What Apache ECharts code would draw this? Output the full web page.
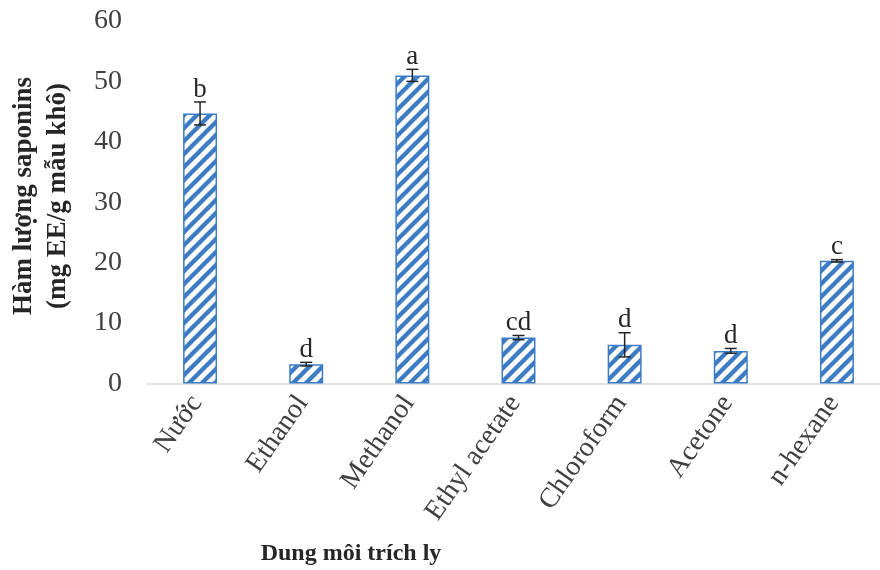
<!DOCTYPE html>
<html>
<head>
<meta charset="utf-8">
<script src="https://cdn.jsdelivr.net/npm/echarts@6/dist/echarts.min.js"></script>
<style>
  html, body { margin: 0; padding: 0; background: #fff; }
  #chart { width: 880px; height: 570px; }
</style>
</head>
<body>
<div id="chart"></div>
<script>
// Saponin content by extraction solvent (mean ± SD, with significance groups)
const categories = ['Nước', 'Ethanol', 'Methanol', 'Ethyl acetate', 'Chloroform', 'Acetone', 'n-hexane'];
const means = [44.7, 3.2, 51.0, 7.6, 6.4, 5.4, 20.3];
const errors = [1.9, 0.3, 1.0, 0.35, 2.0, 0.4, 0.2];
const groups = ['b', 'd', 'a', 'cd', 'd', 'd', 'c'];
const yTicks = [0, 10, 20, 30, 40, 50, 60];

const BLUE = '#3d7cc4';
const SERIF = '"Liberation Serif", "Times New Roman", serif';

// Wide upward-diagonal hatch tile
function stripeTile(color) {
  const s = 13;
  const c = document.createElement('canvas');
  c.width = s; c.height = s;
  const g = c.getContext('2d');
  g.fillStyle = '#ffffff';
  g.fillRect(0, 0, s, s);
  g.strokeStyle = color;
  g.lineWidth = 4.4;
  g.beginPath();
  for (let k = -1; k <= 1; k++) {
    g.moveTo(k * s - 2, s + 2);
    g.lineTo(k * s + s + 2, -2);
  }
  g.stroke();
  return c;
}

const chart = echarts.init(document.getElementById('chart'), null, { renderer: 'canvas' });

const errData = categories.map((c, i) => [i, means[i], errors[i]]);

chart.setOption({
  animation: false,
  backgroundColor: '#ffffff',
  grid: {
    left: 147, width: 743, top: 21, bottom: 186.5,
    containLabel: false,
    outerBoundsMode: 'none'
  },
  xAxis: {
    type: 'category',
    data: categories,
    axisLine: { show: true, lineStyle: { color: '#d9d9d9', width: 1.5 } },
    axisTick: { show: false },
    axisLabel: {
      rotate: 55,
      margin: 10,
      interval: 0,
      padding: [0, 6, 0, 0],
      fontFamily: SERIF,
      fontSize: 28,
      color: '#404040'
    }
  },
  yAxis: {
    type: 'value',
    min: yTicks[0],
    max: yTicks[yTicks.length - 1],
    interval: 10,
    axisLine: { show: false },
    axisTick: { show: false },
    splitLine: { show: false },
    axisLabel: {
      margin: 25,
      fontFamily: SERIF,
      fontSize: 28,
      color: '#404040',
      formatter: v => (yTicks.includes(v) ? String(v) : '')
    }
  },
  series: [
    {
      type: 'bar',
      data: means,
      barWidth: '32%',
      itemStyle: {
        color: { image: stripeTile(BLUE), repeat: 'repeat' },
        borderColor: BLUE,
        borderWidth: 1.5
      },
      z: 2
    },
    {
      type: 'custom',
      data: errData,
      z: 5,
      renderItem: function (params, api) {
        const i = api.value(0);
        const m = api.value(1);
        const e = api.value(2);
        const top = api.coord([i, m + e]);
        const bot = api.coord([i, m - e]);
        const cap = 6;
        const lineStyle = { stroke: '#262626', lineWidth: 1.5 };
        return {
          type: 'group',
          children: [
            { type: 'line', shape: { x1: top[0], y1: top[1], x2: bot[0], y2: bot[1] }, style: lineStyle },
            { type: 'line', shape: { x1: top[0] - cap, y1: top[1], x2: top[0] + cap, y2: top[1] }, style: lineStyle },
            { type: 'line', shape: { x1: bot[0] - cap, y1: bot[1], x2: bot[0] + cap, y2: bot[1] }, style: lineStyle },
            {
              type: 'text',
              style: {
                x: top[0],
                y: top[1] + 1,
                text: groups[i],
                fontFamily: SERIF,
                fontSize: 27,
                fill: '#262626',
                align: 'center',
                verticalAlign: 'bottom'
              }
            }
          ]
        };
      }
    }
  ],
  graphic: [
    {
      type: 'text',
      x: 41,
      y: 196,
      rotation: Math.PI / 2,
      style: {
        text: 'Hàm lượng saponins\n(mg EE/g mẫu khô)',
        fontFamily: SERIF,
        fontWeight: 'bold',
        fontSize: 27,
        lineHeight: 34,
        fill: '#262626',
        align: 'center',
        verticalAlign: 'middle'
      }
    },
    {
      type: 'text',
      x: 351,
      y: 554,
      style: {
        text: 'Dung môi trích ly',
        fontFamily: SERIF,
        fontWeight: 'bold',
        fontSize: 24,
        fill: '#262626',
        align: 'center',
        verticalAlign: 'middle'
      }
    }
  ]
});
</script>
</body>
</html>
